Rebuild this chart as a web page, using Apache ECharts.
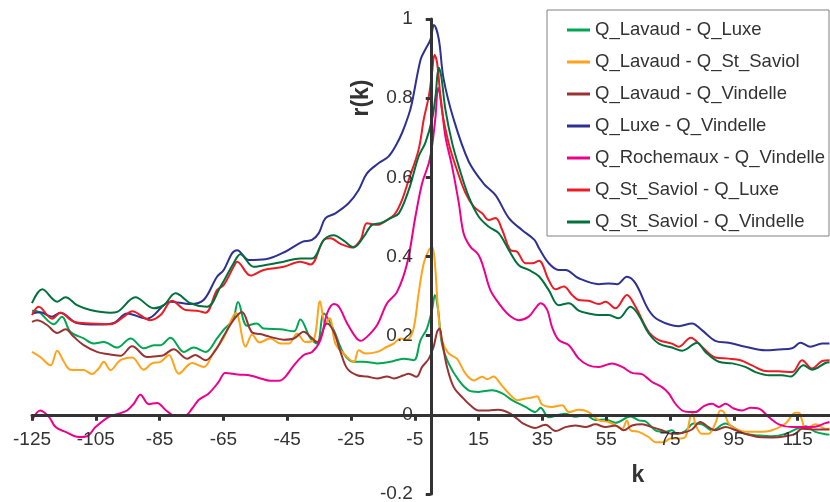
<!DOCTYPE html>
<html>
<head>
<meta charset="utf-8">
<script src="https://cdn.jsdelivr.net/npm/echarts@6/dist/echarts.min.js"></script>
<style>
html,body{margin:0;padding:0;background:#fff;}
#chart{width:830px;height:502px;}
</style>
</head>
<body>
<div id="chart"></div>
<script>
// ---- data: [k, r(k)] ----
const seriesNames = [
  'Q_Lavaud - Q_Luxe',
  'Q_Lavaud - Q_St_Saviol',
  'Q_Lavaud - Q_Vindelle',
  'Q_Luxe - Q_Vindelle',
  'Q_Rochemaux - Q_Vindelle',
  'Q_St_Saviol - Q_Luxe',
  'Q_St_Saviol - Q_Vindelle'
];
const xTickValues = [-125,-105,-85,-65,-45,-25,-5,15,35,55,75,95,115];
const xRange = [-125, 125];
const yRange = [-0.2, 1];

const lavaudLuxe = [[-125,0.263],[-122.9,0.26],[-118.2,0.229],[-115.6,0.248],[-113,0.21],[-108.8,0.193],[-105.6,0.18],[-102.5,0.184],[-98.3,0.17],[-94.1,0.193],[-89.9,0.168],[-86.8,0.176],[-84.7,0.176],[-81.6,0.195],[-77.4,0.159],[-74.3,0.17],[-70.6,0.159],[-67,0.193],[-64.9,0.215],[-62,0.24],[-60.4,0.285],[-57.6,0.225],[-54.5,0.231],[-52.4,0.218],[-47.1,0.216],[-42.9,0.211],[-40.9,0.241],[-37.7,0.193],[-35.6,0.18],[-33.5,0.256],[-30.4,0.214],[-27.3,0.155],[-24.1,0.134],[-21,0.134],[-16.8,0.13],[-12.6,0.134],[-8.5,0.142],[-5.3,0.138],[-3.2,0.189],[-1.2,0.218],[0.4,0.265],[1.3,0.303],[2.3,0.265],[3.5,0.18],[5.6,0.13],[8.8,0.087],[11.9,0.062],[15,0.058],[19.2,0.062],[22.4,0.054],[25.5,0.037],[29.7,0.02],[32.8,0.007],[34.4,0.018],[37,-0.006],[40.1,0],[42.2,0.003],[45.4,-0.005],[48.5,0],[51.6,-0.013],[54.8,-0.012],[57.9,-0.02],[62.6,-0.004],[65.2,-0.014],[67.2,-0.016],[70.4,-0.039],[73.6,-0.043],[75.6,-0.039],[77.2,-0.048],[79.8,-0.041],[82.4,-0.022],[85,-0.024],[88.2,-0.039],[92.4,-0.022],[95.5,-0.035],[98.6,-0.048],[102.8,-0.052],[107,-0.054],[111.2,-0.048],[114.8,-0.035],[117.5,-0.029],[120.6,-0.043],[123.7,-0.049],[125,-0.05]];

const lavaudStSaviol = [[-125,0.159],[-122.4,0.146],[-119.2,0.125],[-117.1,0.162],[-115,0.134],[-113,0.114],[-108.8,0.113],[-106.2,0.103],[-104.1,0.117],[-102.5,0.134],[-100.4,0.113],[-97.3,0.138],[-93.6,0.145],[-90,0.114],[-87.4,0.13],[-84.7,0.134],[-82.1,0.151],[-79,0.104],[-74.8,0.131],[-71.2,0.121],[-68,0.159],[-64.9,0.195],[-61.1,0.257],[-58,0.172],[-56,0.203],[-53.7,0.183],[-50.3,0.193],[-47.1,0.18],[-44.5,0.18],[-41.9,0.205],[-39.3,0.184],[-36.7,0.189],[-34.7,0.287],[-33.1,0.231],[-31.7,0.244],[-29.9,0.18],[-27.3,0.155],[-24.1,0.134],[-22.6,0.163],[-20.5,0.155],[-16.8,0.159],[-13.7,0.172],[-11.6,0.18],[-9.5,0.193],[-7.5,0.19],[-5.5,0.214],[-3.8,0.307],[-2.2,0.383],[-0.6,0.416],[0.4,0.425],[1.3,0.383],[2.3,0.265],[3.5,0.189],[5.6,0.155],[8.2,0.142],[10.9,0.104],[13.5,0.087],[16.1,0.096],[17.7,0.09],[19.7,0.097],[21.8,0.079],[24.5,0.054],[27.1,0.037],[29.7,0.041],[31.8,0.044],[33.3,0.047],[34.9,0.026],[38,0.02],[41.2,0.024],[43.3,0.007],[46.4,0.013],[49.5,0.007],[52.7,-0.014],[55.8,-0.018],[58.5,-0.03],[60,-0.035],[61.5,-0.014],[62.6,-0.039],[65.2,-0.043],[68.3,-0.056],[70.4,-0.069],[73,-0.069],[75.1,-0.06],[77.7,-0.06],[79.8,-0.056],[81.4,-0.005],[82.1,0.003],[83,-0.025],[85,-0.048],[87.1,-0.048],[89.2,-0.022],[90.8,0.011],[91.8,0.008],[93.4,-0.022],[95.5,-0.035],[98.6,-0.043],[102.8,-0.043],[107,-0.039],[111.2,-0.022],[114.3,0.005],[115.4,0.005],[116.4,-0.014],[117.5,-0.035],[120.6,-0.024],[123.7,-0.035],[125,-0.035]];

const lavaudVindelle = [[-125,0.235],[-123.4,0.239],[-120.3,0.227],[-117.1,0.207],[-114.5,0.216],[-111.9,0.197],[-108.8,0.176],[-104.6,0.159],[-99.4,0.151],[-97.3,0.149],[-93.6,0.173],[-88.9,0.146],[-85.8,0.148],[-83.7,0.151],[-80.6,0.166],[-76.4,0.142],[-73.8,0.151],[-70.6,0.138],[-67.5,0.163],[-64.9,0.199],[-61.8,0.24],[-59.2,0.26],[-56,0.208],[-53.4,0.204],[-50.3,0.197],[-46.1,0.19],[-42.9,0.193],[-39.8,0.21],[-37.7,0.197],[-35.6,0.184],[-32.5,0.231],[-30.4,0.21],[-28.3,0.159],[-26.2,0.117],[-23.1,0.1],[-20,0.097],[-16.8,0.092],[-13.7,0.097],[-11.6,0.092],[-8.5,0.1],[-6.9,0.104],[-4.5,0.096],[-2.7,0.121],[-0.6,0.142],[0.9,0.172],[2,0.21],[2.8,0.218],[3.5,0.189],[5.1,0.121],[7.2,0.07],[9.8,0.045],[12.4,0.024],[15,0.011],[18.2,0.011],[21.3,0.013],[24.5,0.005],[27.1,-0.01],[29,-0.022],[32.8,-0.033],[34.9,-0.027],[36,-0.025],[39.1,-0.041],[42.2,-0.031],[45.4,-0.027],[48.5,-0.031],[51.6,-0.024],[54.8,-0.031],[57.9,-0.027],[60.5,-0.039],[63.1,-0.027],[66.2,-0.024],[69.4,-0.031],[72.5,-0.039],[75.6,-0.048],[78.8,-0.046],[81.9,-0.037],[84.5,-0.018],[87.1,-0.031],[89.2,-0.039],[92.4,-0.031],[95,-0.037],[98.6,-0.048],[102.8,-0.056],[107,-0.057],[111.2,-0.054],[114.3,-0.048],[116.4,-0.035],[119.5,-0.037],[123.7,-0.037],[125,-0.037]];

const luxeVindelle = [[-125,0.256],[-122.4,0.259],[-118.7,0.248],[-116.1,0.258],[-110.9,0.232],[-104.6,0.228],[-99.4,0.232],[-95.2,0.256],[-88.9,0.243],[-81.6,0.286],[-75.3,0.28],[-71.2,0.29],[-67,0.349],[-64.9,0.366],[-62.3,0.408],[-60.7,0.416],[-57,0.391],[-51.8,0.393],[-45.6,0.412],[-40.3,0.437],[-37.2,0.442],[-35.1,0.459],[-33,0.497],[-29.9,0.509],[-25.7,0.535],[-22.6,0.568],[-20,0.61],[-16.3,0.636],[-13.2,0.653],[-11.1,0.678],[-9,0.712],[-6.9,0.758],[-5.9,0.788],[-3.2,0.897],[-1.7,0.923],[-0.1,0.948],[1,0.985],[2.5,0.95],[4,0.85],[7.2,0.746],[11.9,0.64],[16.5,0.585],[20.3,0.555],[24.5,0.497],[28.6,0.467],[32.5,0.442],[34,0.42],[37,0.383],[40.1,0.366],[42.2,0.366],[46.4,0.345],[52.7,0.33],[55.8,0.332],[58.4,0.33],[61.5,0.349],[64.2,0.332],[68.3,0.265],[71.5,0.239],[77.7,0.224],[81.9,0.231],[85,0.214],[89.2,0.187],[93.4,0.182],[98.6,0.172],[104.9,0.163],[109.1,0.165],[113.3,0.168],[115.9,0.182],[119,0.172],[122.7,0.18],[125,0.18]];

const rochemauxVindelle = [[-125,-0.014],[-122.4,0.011],[-119.7,-0.005],[-117.6,-0.031],[-114.5,-0.043],[-110.3,-0.056],[-107.7,-0.054],[-105.1,-0.031],[-100.9,-0.005],[-97.8,0.003],[-95.2,0.011],[-93.1,0.028],[-91,0.051],[-88.4,0.027],[-85.8,0.03],[-83.2,0.013],[-80.6,-0.001],[-76.9,-0.001],[-74.8,0.016],[-72.7,0.038],[-69.6,0.054],[-66.5,0.083],[-64.4,0.106],[-60.5,0.102],[-56.3,0.099],[-53.4,0.092],[-50.3,0.086],[-47.1,0.087],[-45.6,0.096],[-42.9,0.125],[-39.8,0.151],[-37.2,0.159],[-34.6,0.189],[-32.5,0.256],[-30.4,0.28],[-28.8,0.273],[-26.2,0.231],[-23.6,0.197],[-22,0.187],[-20,0.197],[-16.8,0.227],[-13.7,0.282],[-10.6,0.31],[-7.4,0.383],[-4.8,0.501],[-2.7,0.585],[-0.6,0.636],[0.4,0.678],[1.5,0.754],[2.3,0.826],[3,0.805],[4.6,0.703],[6.7,0.627],[8.8,0.535],[10.3,0.459],[12.4,0.425],[15,0.404],[16.6,0.37],[18.7,0.315],[21.3,0.282],[24.5,0.252],[27.6,0.239],[30.7,0.248],[32.8,0.269],[34.4,0.282],[36.5,0.265],[38,0.222],[40.1,0.189],[43.3,0.176],[46.4,0.142],[49.5,0.125],[52.7,0.121],[56.8,0.13],[60,0.121],[63.1,0.106],[66.2,0.103],[69.4,0.083],[72.5,0.07],[74.6,0.054],[76.7,0.028],[78.8,0.011],[80.9,0.007],[83,0.007],[85.6,0.022],[88.2,0.028],[90.3,0.02],[92.4,0.028],[95,0.016],[97.6,0.011],[100.2,0.018],[102.8,0.016],[106,-0.006],[109.1,-0.024],[113.3,-0.031],[117.5,-0.031],[120.6,-0.03],[123.7,-0.021],[125,-0.018]];

const stSaviolLuxe = [[-125,0.252],[-122.9,0.273],[-118.7,0.243],[-116.1,0.258],[-111.9,0.235],[-106.7,0.231],[-100.4,0.229],[-96.2,0.248],[-93.6,0.262],[-87.9,0.239],[-84.7,0.252],[-81.1,0.288],[-76.9,0.265],[-73.3,0.263],[-70.6,0.258],[-67,0.315],[-64.9,0.328],[-61.8,0.374],[-60.7,0.387],[-56.5,0.352],[-52.4,0.366],[-46.1,0.374],[-40.9,0.387],[-37.7,0.38],[-33.5,0.442],[-31.4,0.446],[-28.3,0.432],[-24.7,0.423],[-22,0.442],[-20,0.484],[-16.8,0.48],[-13.7,0.492],[-11.1,0.509],[-9,0.543],[-6.9,0.594],[-3.8,0.67],[-2.2,0.746],[-0.6,0.805],[0.4,0.864],[1.2,0.91],[2,0.889],[3.5,0.771],[5.6,0.687],[8.2,0.619],[10.9,0.56],[13.5,0.526],[16.1,0.509],[18.2,0.492],[20.3,0.497],[22.4,0.467],[25,0.416],[27.1,0.412],[29.7,0.383],[31.8,0.383],[33.9,0.389],[37,0.34],[39.1,0.317],[41.7,0.324],[44.3,0.303],[46.4,0.29],[49.5,0.288],[52.7,0.28],[54.8,0.286],[57.9,0.269],[61.5,0.303],[64.2,0.273],[68.3,0.21],[71.5,0.189],[75.6,0.18],[77.7,0.172],[81.5,0.195],[85,0.172],[89.2,0.145],[93.4,0.142],[97.1,0.138],[100.7,0.125],[104.9,0.111],[109.1,0.11],[113.3,0.108],[116.4,0.138],[119.5,0.117],[122.7,0.136],[125,0.138]];

const stSaviolVindelle = [[-125,0.282],[-121.8,0.317],[-117.1,0.286],[-114.5,0.297],[-110.9,0.277],[-106.7,0.265],[-100.4,0.258],[-98.3,0.26],[-92.6,0.297],[-86.8,0.269],[-83.7,0.277],[-80,0.307],[-75.3,0.282],[-70.1,0.273],[-65.9,0.324],[-61.8,0.383],[-59.7,0.406],[-55.5,0.374],[-51.3,0.379],[-46.1,0.387],[-40.9,0.395],[-37.2,0.395],[-33.5,0.442],[-30.4,0.454],[-27.3,0.44],[-24.1,0.423],[-21,0.45],[-18.4,0.48],[-15.8,0.484],[-12.6,0.497],[-10,0.509],[-6.9,0.568],[-3.8,0.653],[-1.7,0.687],[0.4,0.746],[1.5,0.805],[2.5,0.877],[3.3,0.855],[4.6,0.771],[6.7,0.687],[8.8,0.627],[11.9,0.551],[15,0.501],[18.2,0.475],[21.3,0.459],[24.5,0.416],[27.6,0.378],[30.7,0.366],[33.9,0.35],[37,0.315],[40.1,0.277],[43.3,0.282],[46.4,0.263],[49.5,0.256],[52.7,0.252],[55.8,0.252],[58.9,0.244],[62.6,0.273],[65.2,0.252],[68.3,0.206],[71.5,0.18],[75.6,0.17],[78.8,0.162],[83.5,0.182],[86.1,0.159],[90.3,0.134],[94.5,0.13],[98.6,0.121],[101.8,0.108],[106,0.1],[110.1,0.1],[112.8,0.097],[116.9,0.125],[119.5,0.114],[123.7,0.131],[125,0.133]];

const seriesData = [lavaudLuxe, lavaudStSaviol, lavaudVindelle, luxeVindelle, rochemauxVindelle, stSaviolLuxe, stSaviolVindelle];
const seriesColors = ['#00A651', '#FFA31A', '#993333', '#2E3192', '#EC008C', '#ED1C24', '#00703C'];

const FONT = '"Liberation Sans", Arial, Helvetica, sans-serif';
const GRID = {left: 32, top: 19, width: 797.5, height: 475};
// axes cross at zero: shift each axis from its grid edge to the other axis' zero
const yAxisOffset = -GRID.width * (0 - xRange[0]) / (xRange[1] - xRange[0]);
const xAxisOffset = -GRID.height * (0 - yRange[0]) / (yRange[1] - yRange[0]);

const chart = echarts.init(document.getElementById('chart'), null, {renderer: 'canvas'});

chart.setOption({
  animation: false,
  backgroundColor: '#fff',
  grid: {left: GRID.left, top: GRID.top, width: GRID.width, height: GRID.height,
         containLabel: false, outerBoundsMode: 'none'},
  xAxis: {
    type: 'value', min: xRange[0], max: xRange[1], position: 'bottom', offset: xAxisOffset, z: 20,
    axisLine: {show: true, onZero: false, lineStyle: {color: '#333', width: 3}},
    axisTick: {show: true, length: 6, lineStyle: {color: '#333', width: 3}, customValues: xTickValues},
    axisLabel: {show: true, margin: 15, fontSize: 19, color: '#333', fontFamily: FONT, customValues: xTickValues},
    splitLine: {show: false}
  },
  yAxis: {
    type: 'value', min: yRange[0], max: yRange[1], interval: 0.2, position: 'left', offset: yAxisOffset, z: 20,
    axisLine: {show: true, onZero: false, lineStyle: {color: '#333', width: 3}},
    axisTick: {show: true, length: 5, lineStyle: {color: '#333', width: 3}},
    axisLabel: {show: true, margin: 18, fontSize: 19, color: '#333', fontFamily: FONT,
      formatter: v => String(Math.round(v * 10) / 10)},
    splitLine: {show: false}
  },
  legend: {
    orient: 'vertical', left: 547, top: 10, z: 30,
    padding: [10, 4, 4, 20], itemGap: 12,
    itemWidth: 23, itemHeight: 3, icon: 'rect',
    backgroundColor: '#fff', borderColor: '#808080', borderWidth: 1,
    textStyle: {fontSize: 18.5, lineHeight: 20, color: '#333', fontFamily: FONT},
    data: seriesNames
  },
  graphic: [
    {type: 'text', x: 362, y: 98, rotation: Math.PI / 2,
     style: {text: 'r(k)', font: 'bold 23px ' + FONT, fill: '#333', align: 'center', verticalAlign: 'middle'}},
    {type: 'text', x: 638, y: 476,
     style: {text: 'k', font: 'bold 23px ' + FONT, fill: '#333', align: 'center', verticalAlign: 'middle'}}
  ],
  series: seriesNames.map((name, i) => ({
    name: name, type: 'line', data: seriesData[i],
    smooth: 0.35, showSymbol: false, symbol: 'none',
    lineStyle: {color: seriesColors[i], width: 2},
    itemStyle: {color: seriesColors[i]},
    z: 2 + i
  }))
});
</script>
</body>
</html>
